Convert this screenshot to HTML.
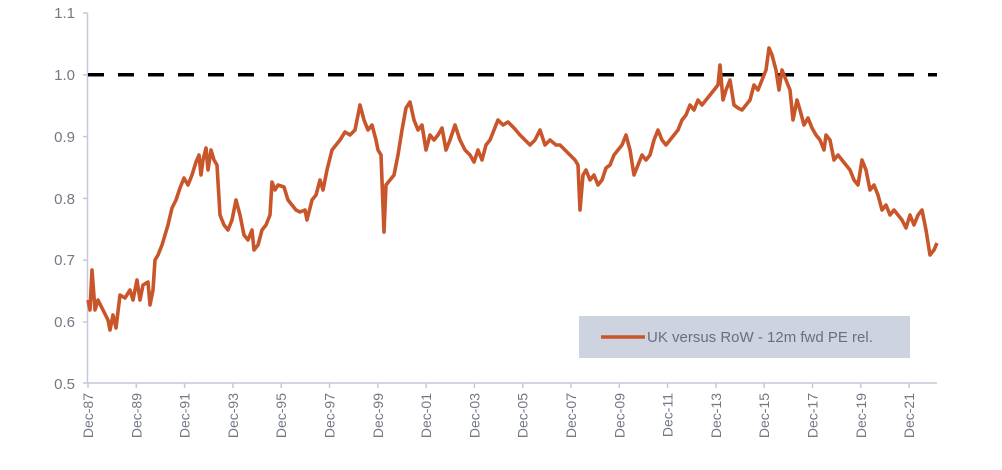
<!DOCTYPE html>
<html><head><meta charset="utf-8"><style>
html,body{margin:0;padding:0;background:#fff;}
svg{display:block;font-family:"Liberation Sans",sans-serif;}
</style></head><body>
<svg width="1002" height="470" viewBox="0 0 1002 470" xmlns="http://www.w3.org/2000/svg">
<g stroke="#c3c9d6" stroke-width="1.5" fill="none">
<line x1="87.5" y1="13" x2="87.5" y2="383"/>
<line x1="87.5" y1="383" x2="937" y2="383"/>
<line x1="83" y1="13" x2="87.5" y2="13"/><line x1="83" y1="74.8" x2="87.5" y2="74.8"/>
<line x1="83" y1="136.6" x2="87.5" y2="136.6"/><line x1="83" y1="198.4" x2="87.5" y2="198.4"/>
<line x1="83" y1="260.2" x2="87.5" y2="260.2"/><line x1="83" y1="322" x2="87.5" y2="322"/>
<line x1="83" y1="383" x2="87.5" y2="383"/>
<line x1="88" y1="383" x2="88" y2="388"/><line x1="136.3" y1="383" x2="136.3" y2="388"/>
<line x1="184.6" y1="383" x2="184.6" y2="388"/><line x1="232.9" y1="383" x2="232.9" y2="388"/>
<line x1="281.2" y1="383" x2="281.2" y2="388"/><line x1="329.5" y1="383" x2="329.5" y2="388"/>
<line x1="377.8" y1="383" x2="377.8" y2="388"/><line x1="426.1" y1="383" x2="426.1" y2="388"/>
<line x1="474.4" y1="383" x2="474.4" y2="388"/><line x1="522.7" y1="383" x2="522.7" y2="388"/>
<line x1="571" y1="383" x2="571" y2="388"/><line x1="619.3" y1="383" x2="619.3" y2="388"/>
<line x1="667.6" y1="383" x2="667.6" y2="388"/><line x1="715.9" y1="383" x2="715.9" y2="388"/>
<line x1="764.2" y1="383" x2="764.2" y2="388"/><line x1="812.5" y1="383" x2="812.5" y2="388"/>
<line x1="860.8" y1="383" x2="860.8" y2="388"/><line x1="909.1" y1="383" x2="909.1" y2="388"/>
</g>
<g fill="#737885" font-size="15" text-anchor="end">
<text x="75" y="18">1.1</text><text x="75" y="80">1.0</text><text x="75" y="142">0.9</text>
<text x="75" y="204">0.8</text><text x="75" y="265">0.7</text><text x="75" y="327">0.6</text><text x="75" y="389">0.5</text>
</g>
<g fill="#737885" font-size="14" text-anchor="end">
<text transform="translate(93,393) rotate(-90)">Dec-87</text>
<text transform="translate(141.3,393) rotate(-90)">Dec-89</text>
<text transform="translate(189.6,393) rotate(-90)">Dec-91</text>
<text transform="translate(237.9,393) rotate(-90)">Dec-93</text>
<text transform="translate(286.2,393) rotate(-90)">Dec-95</text>
<text transform="translate(334.5,393) rotate(-90)">Dec-97</text>
<text transform="translate(382.8,393) rotate(-90)">Dec-99</text>
<text transform="translate(431.1,393) rotate(-90)">Dec-01</text>
<text transform="translate(479.4,393) rotate(-90)">Dec-03</text>
<text transform="translate(527.7,393) rotate(-90)">Dec-05</text>
<text transform="translate(576,393) rotate(-90)">Dec-07</text>
<text transform="translate(624.3,393) rotate(-90)">Dec-09</text>
<text transform="translate(672.6,393) rotate(-90)">Dec-11</text>
<text transform="translate(720.9,393) rotate(-90)">Dec-13</text>
<text transform="translate(769.2,393) rotate(-90)">Dec-15</text>
<text transform="translate(817.5,393) rotate(-90)">Dec-17</text>
<text transform="translate(865.8,393) rotate(-90)">Dec-19</text>
<text transform="translate(914.1,393) rotate(-90)">Dec-21</text>
</g>
<line x1="88" y1="74.8" x2="937" y2="74.8" stroke="#000" stroke-width="3.5" stroke-dasharray="16,14"/>
<polyline fill="none" stroke="#c8562a" stroke-width="3.6" stroke-linejoin="round" points="88,300 90,310 92,270 95,310 98,300 103,310 108,320 110,330 113,315 116,328 120,295 125,298 130,290 133,300 137,280 140,300 143,285 148,282 150,305 153,290 155,260 158,255 162,245 165,235 168,225 172,208 176,200 180,188 184,178 188,185 192,175 196,162 199,155 201,175 203,160 206,148 208,170 211,150 214,160 217,165 220,215 224,225 228,230 232,220 236,200 240,215 244,235 248,240 252,230 254,250 258,245 262,230 266,225 270,215 272,182 275,190 278,185 284,187 288,200 292,205 296,210 300,212 305,210 307,220 312,200 316,195 320,180 323,190 327,170 332,150 336,145 340,140 345,132 350,135 355,130 360,105 364,120 368,130 372,125 376,140 378,150 381,155 384,232 386,185 390,180 394,175 398,155 402,130 406,108 410,102 414,120 418,130 422,125 426,150 430,135 434,140 438,135 442,128 446,150 450,140 455,125 460,140 465,150 470,155 474,162 478,150 482,160 486,145 490,140 494,130 498,120 503,125 508,122 514,128 520,135 525,140 530,145 535,140 540,130 545,145 550,140 556,145 560,145 565,150 570,155 575,160 578,165 580,210 583,175 586,170 590,180 594,175 598,185 602,180 606,168 610,165 614,155 618,150 622,145 626,135 630,150 634,175 638,165 642,155 646,160 650,155 654,140 658,130 662,140 666,145 670,140 674,135 678,130 682,120 686,115 690,105 694,110 698,100 702,105 706,100 710,95 714,90 718,85 720,65 723,100 726,90 730,80 734,105 738,108 742,110 746,105 750,100 754,85 758,90 762,80 766,70 769,48 772,55 776,70 779,90 782,70 786,80 790,90 793,120 797,100 800,110 804,125 808,118 812,128 816,135 820,140 824,150 826,135 830,140 834,160 838,155 842,160 846,165 850,170 854,180 858,185 862,160 866,170 870,190 874,185 878,195 882,210 886,205 890,215 894,210 898,215 902,220 906,228 910,215 914,225 918,215 922,210 926,230 930,255 934,250 937,243"/>
<rect x="579" y="316" width="331" height="42" fill="#cdd3df"/>
<line x1="601" y1="337" x2="645" y2="337" stroke="#c8562a" stroke-width="3.5"/>
<text x="647" y="342" font-size="15" fill="#6a6f7b">UK versus RoW - 12m fwd PE rel.</text>
</svg>
</body></html>
